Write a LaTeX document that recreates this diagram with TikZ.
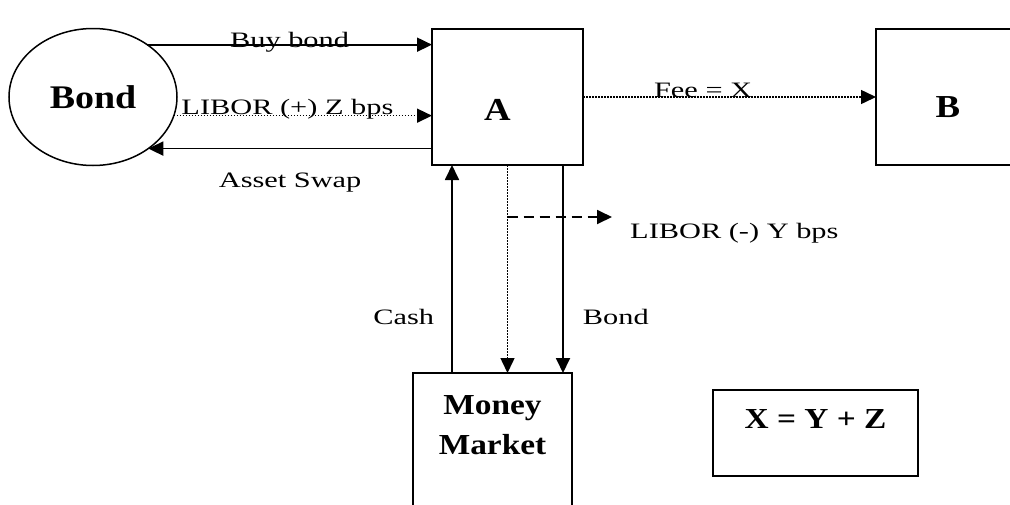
\documentclass[tikz,border=0pt]{standalone}
\usepackage{fontspec}
\setmainfont{Liberation Serif}[FakeStretch=1.38]
\newfontfamily\heavyfont{Liberation Serif}[FakeStretch=1.15]
\usetikzlibrary{arrows.meta,positioning,shapes.geometric,calc}

\begin{document}
\begin{tikzpicture}[
      x=1pt, y=-1pt,
      box/.style={draw, line width=1.8pt, inner sep=0pt, outer sep=0pt},
      title/.style={font=\heavyfont\bfseries\fontsize{32}{36}\selectfont},
      lbl/.style={font=\fontsize{22}{26}\selectfont, inner sep=0pt},
      arrow/.style={-{Triangle[length=15pt,width=14pt]}, line width=1.8pt},
      dots/.style={dash pattern=on 1.5pt off 1.5pt, line width=1.5pt}
    ]
    \useasboundingbox (0,0) rectangle (1010,504);
    \clip (0,0) rectangle (1010,504);

    \node[box, ellipse, minimum width=168pt, minimum height=137pt, line width=1.5pt,
          font=\heavyfont\bfseries\fontsize{33}{36}\selectfont] (bond) at (93,97) {Bond};
    \node[box, minimum width=151pt, minimum height=136pt,
          label={[title, xshift=-10pt, yshift=-13pt]center:A}] (a) at (507.5,97) {};
    \node[box, minimum width=144pt, minimum height=136pt,
          label={[title, yshift=-10pt]center:B}] (b) at (948,97) {};
    \node[box, minimum width=159pt, minimum height=150pt,
          label={[title, font=\heavyfont\bfseries\fontsize{29}{40}\selectfont,
                  align=center, inner sep=0pt, anchor=north, yshift=-22pt]north:Money\\Market}]
          (mm) at (492.5,448) {};
    \node[box, minimum width=205pt, minimum height=86pt,
          label={[title, font=\heavyfont\bfseries\fontsize{29}{32}\selectfont,
                  yshift=14pt]center:X = Y + Z}] (sum) at (815.5,433) {};

    % Bond <-> A
    \draw[arrow] (bond.44) -- (bond.44 -| a.west)
      node[lbl, midway, anchor=base, yshift=-3pt] (buylbl) {Buy bond};
    \draw[arrow, dots] (bond.-13) -- (bond.-13 -| a.west)
      node[lbl, pos=0.44, anchor=base, yshift=1pt] (zlbl) {LIBOR (+) Z bps};
    \draw[arrow] (bond.-43 -| a.west) -- (bond.-43)
      node[lbl, midway, anchor=base, yshift=-39pt] (swaplbl) {Asset Swap};

    % A -> B
    \draw[arrow, dots] (a) -- (b)
      node[lbl, pos=0.41, anchor=base] (feelbl) {Fee = X};

    % A <-> Money Market
    \coordinate (cash) at ($(a.south west)+(20,0)$);
    \coordinate (bondflow) at ($(a.south east)+(-20,0)$);
    \draw[arrow] (cash |- mm.north) -- (cash)
      node[lbl, pos=0.235, anchor=base east, xshift=-17pt] (cashlbl) {Cash};
    \draw[arrow, dots] (a.south) -- (a.south |- mm.north);
    \draw[arrow] (bondflow) -- (bondflow |- mm.north)
      node[lbl, pos=0.765, anchor=base west, xshift=19pt] (bondlbl) {Bond};

    \coordinate (yend) at (612,217);
    \draw[arrow, dash pattern=on 10pt off 6pt] (a.south |- yend) -- (yend);
    \node[lbl, anchor=base west] (ylbl) at ($(yend)+(18,21)$) {LIBOR (-) Y bps};
  \end{tikzpicture}
\end{document}
